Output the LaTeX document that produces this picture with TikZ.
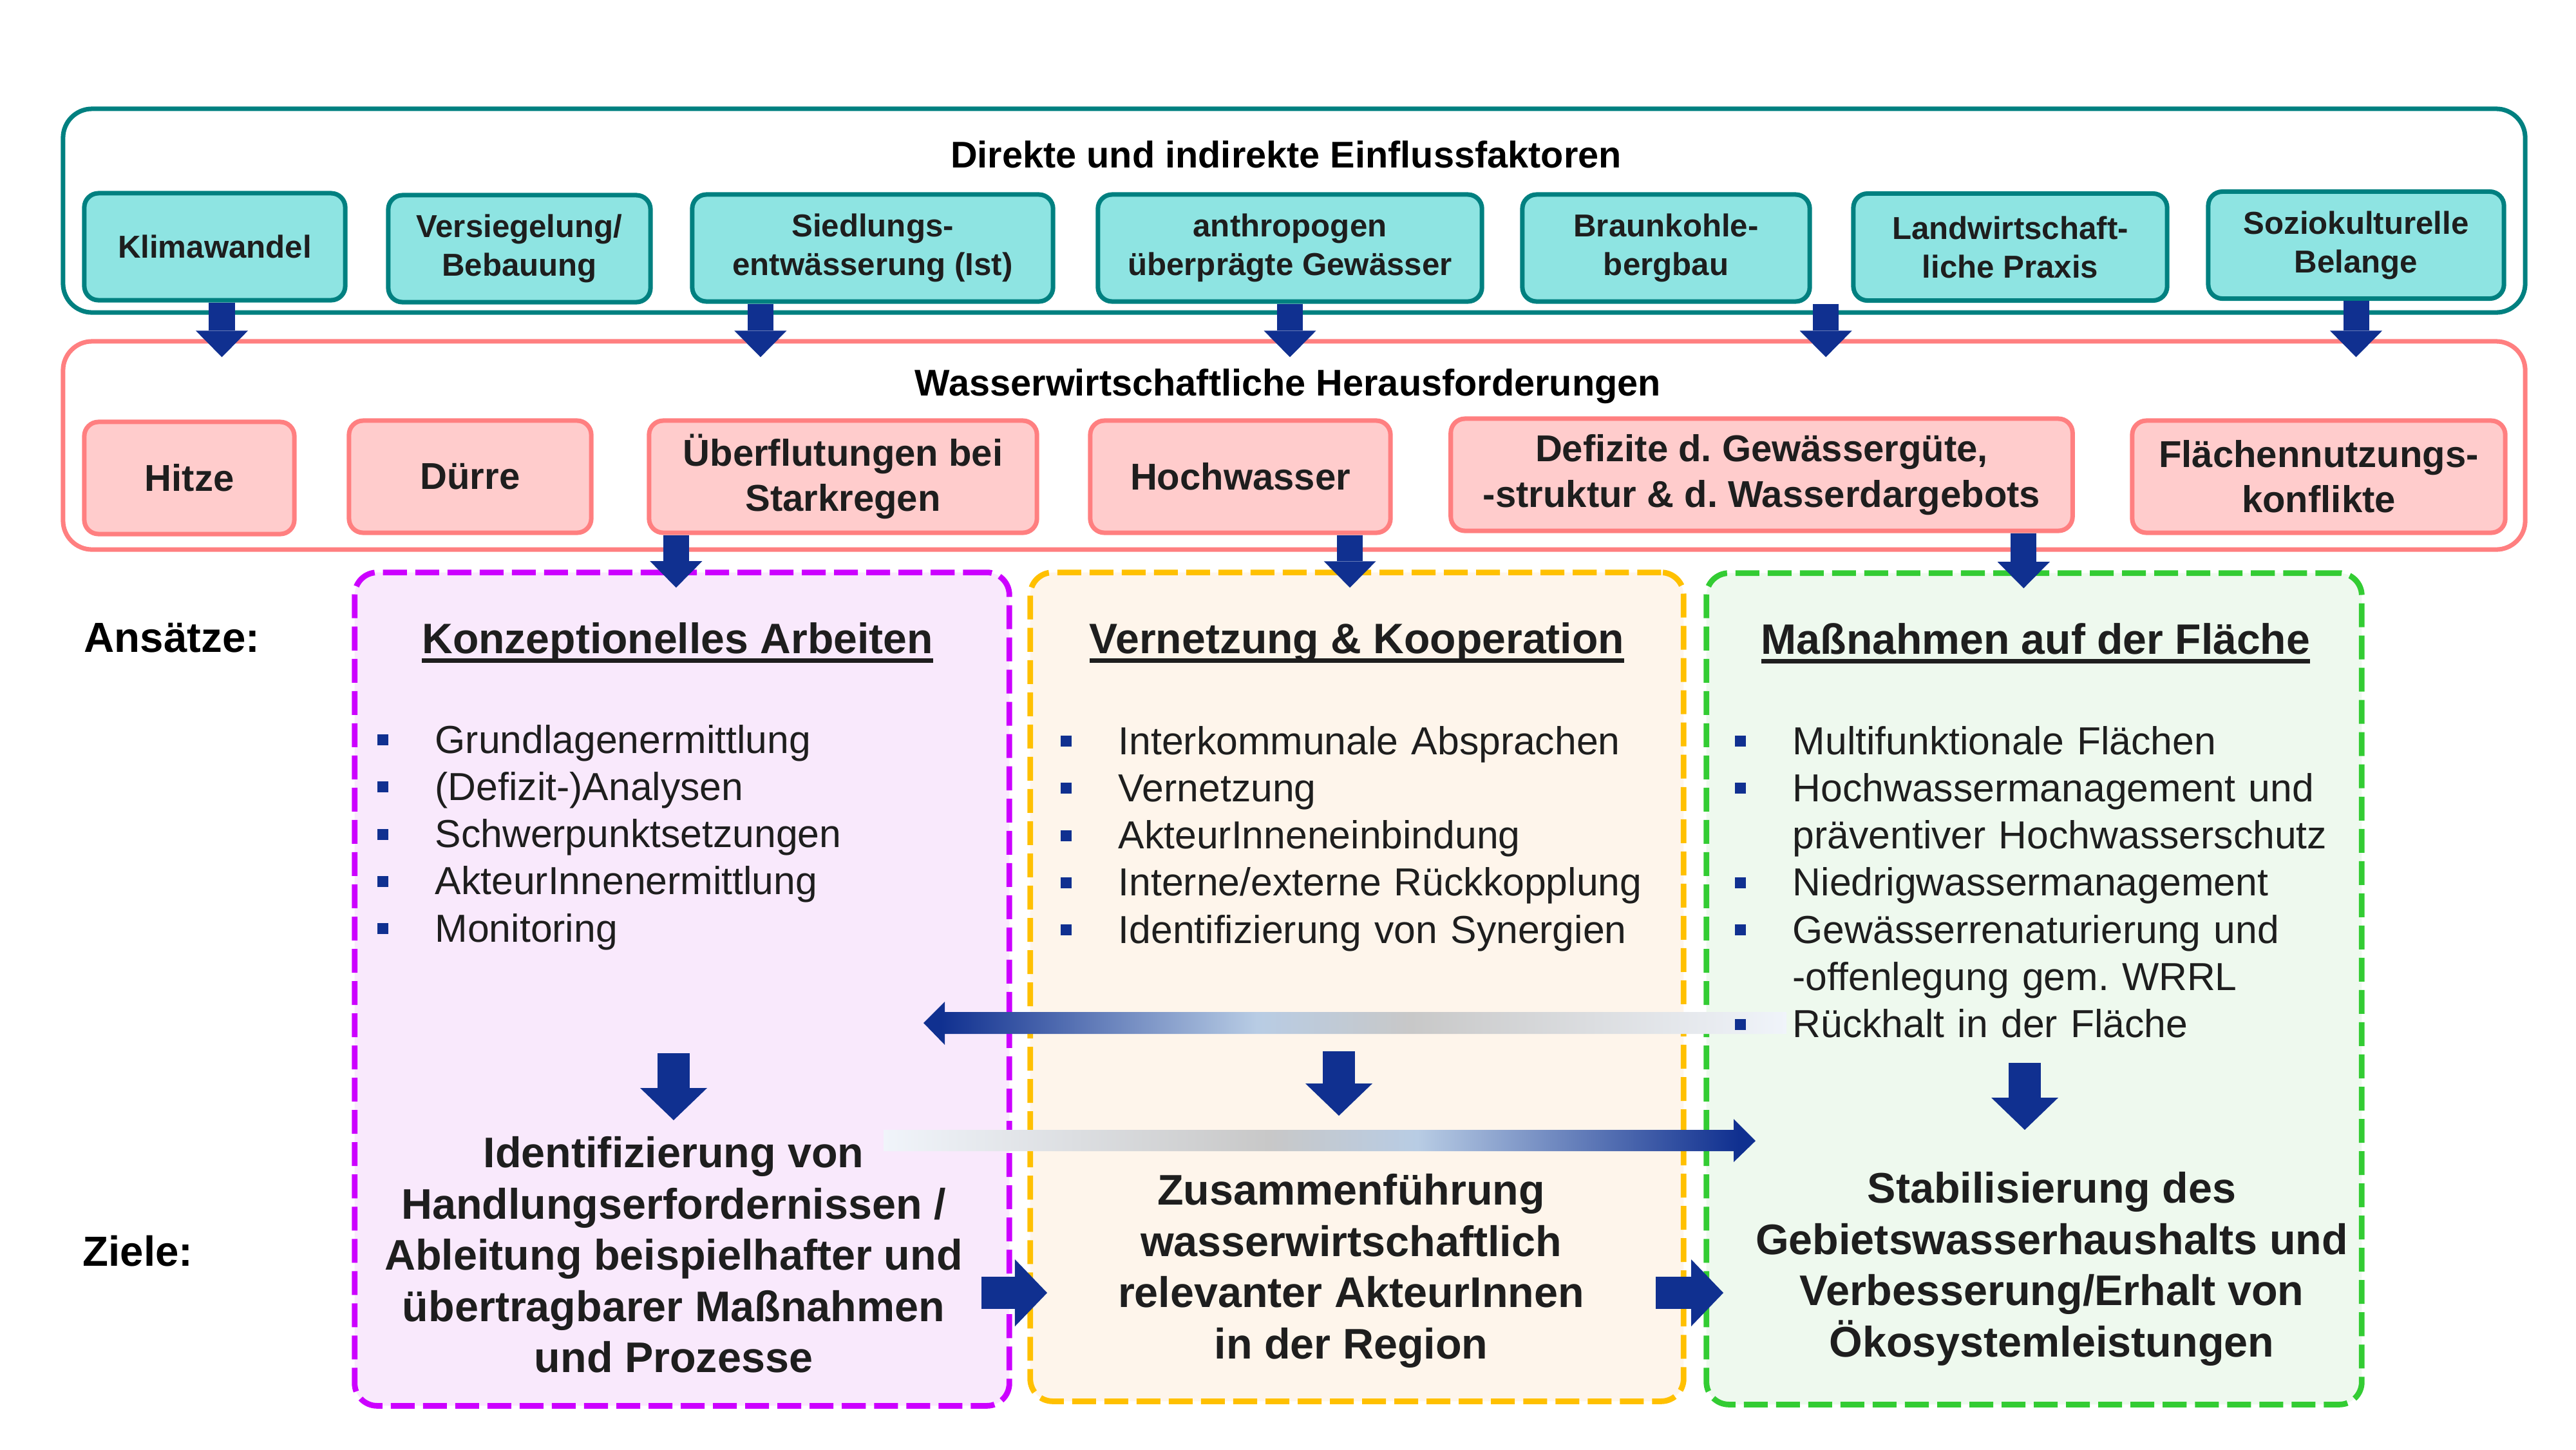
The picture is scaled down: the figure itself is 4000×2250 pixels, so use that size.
\documentclass[tikz,border=0pt]{standalone}
\usepackage{fontspec}
\setmainfont{Liberation Sans}
\usepackage{xcolor}
\usetikzlibrary{arrows.meta}
\frenchspacing

\definecolor{tealline}{RGB}{0,128,128}
\definecolor{tealfill}{RGB}{142,228,226}
\definecolor{pinkline}{RGB}{255,127,128}
\definecolor{pinkfill}{RGB}{255,204,204}
\definecolor{lilaline}{RGB}{204,0,255}
\definecolor{lilafill}{RGB}{249,233,252}
\definecolor{orangeline}{RGB}{255,192,0}
\definecolor{orangefill}{RGB}{254,245,235}
\definecolor{gruenline}{RGB}{51,204,51}
\definecolor{gruenfill}{RGB}{238,249,238}
\definecolor{navyarrow}{RGB}{16,48,144}
\definecolor{hellblau}{RGB}{184,204,228}
\definecolor{hellgrau}{RGB}{200,200,200}
\definecolor{fastweiss}{RGB}{240,244,250}
\definecolor{textdark}{RGB}{30,30,30}

\pgfdeclarehorizontalshading{verlaufLinks}{100bp}{color(0bp)=(navyarrow); color(26bp)=(navyarrow); color(44.3bp)=(hellblau); color(53.2bp)=(hellgrau); color(75bp)=(fastweiss); color(100bp)=(fastweiss)}
\pgfdeclarehorizontalshading{verlaufRechts}{100bp}{color(0bp)=(fastweiss); color(25bp)=(fastweiss); color(47.1bp)=(hellgrau); color(55.6bp)=(hellblau); color(74bp)=(navyarrow); color(100bp)=(navyarrow)}

\newcommand{\unterstr}[1]{\sbox0{#1}\rlap{\rule[-0.22em]{\wd0}{0.1em}}\usebox0}
\newcommand{\punkt}{\leavevmode\llap{\textcolor{navyarrow}{\rule[0.2em]{0.28em}{0.28em}}\hspace{1.2em}}}

\begin{document}
\begin{tikzpicture}[x=0.01cm, y=-0.01cm,
    rahmen/.style={line width=2pt, rounded corners=0.45cm, inner sep=0pt},
    faktor/.style={draw=tealline, fill=tealfill, line width=2pt, rounded corners=0.22cm, inner sep=0pt, minimum height=1.66cm, align=center, text=textdark, font=\bfseries\fontsize{14pt}{17pt}\selectfont},
    problem/.style={draw=pinkline, fill=pinkfill, line width=2pt, rounded corners=0.22cm, inner sep=0pt, minimum height=1.74cm, align=center, text=textdark, font=\bfseries\fontsize{16.5pt}{20pt}\selectfont},
    kopf/.style={anchor=base, font=\bfseries\fontsize{16.4pt}{20pt}\selectfont},
    ansatz/.style={line width=2.5pt, dash pattern=on 0.37cm off 0.13cm, rounded corners=0.35cm, inner sep=0pt},
    titel/.style={anchor=base, inner sep=0pt, text=textdark, font=\bfseries\fontsize{18.8pt}{22pt}\selectfont},
    liste/.style={anchor=base west, inner sep=0pt, text width=9cm, align=left, text=textdark, font=\fontsize{17.25pt}{20.85pt}\selectfont},
    ziel/.style={align=center, inner sep=0pt, text=textdark, font=\bfseries\fontsize{18.9pt}{22.6pt}\selectfont},
    seite/.style={anchor=base west, inner sep=0pt, font=\bfseries\fontsize{18.6pt}{22pt}\selectfont},
    pfeil/.style={draw=navyarrow, line width=0.4cm, shorten >=-0.28cm, -{Triangle[width=0.81cm, length=0.41cm, line width=0pt]}},
    dickpfeil/.style={draw=navyarrow, line width=0.5cm, -{Triangle[width=1.04cm, length=0.5cm, line width=0pt]}}]
    \useasboundingbox (0,0) rectangle (4000,2250);

    \node[rahmen, draw=tealline, minimum width=38.21cm, minimum height=3.16cm] (einfluss) at (2009.5,327) {};
    \node[kopf] (einflusskopf) at (1997,260) {Direkte und indirekte Einflussfaktoren};
    \node[faktor, minimum width=4.05cm] (klima) at (333.5,383) {Klimawandel};
    \node[faktor, minimum width=4.07cm] (versieg) at (806.5,386) {Versiegelung/\\Bebauung};
    \node[faktor, minimum width=5.6cm] (siedl) at (1355,385) {Siedlungs-\\entwässerung (Ist)};
    \node[faktor, minimum width=5.96cm] (anthro) at (2003,385) {anthropogen\\überprägte Gewässer};
    \node[faktor, minimum width=4.46cm] (braun) at (2587,385) {Braunkohle-\\bergbau};
    \node[faktor, minimum width=4.87cm] (landw) at (3121.5,383.5) {Landwirtschaft-\\liche Praxis};
    \node[faktor, minimum width=4.59cm] (sozio) at (3658.5,380.5) {Soziokulturelle\\Belange};

    \node[rahmen, draw=pinkline, minimum width=38.21cm, minimum height=3.23cm] (herausf) at (2009.5,691.5) {};
    \node[kopf] (herausfkopf) at (2000,614) {Wasserwirtschaftliche Herausforderungen};
    \node[problem, minimum width=3.26cm] (hitze) at (294,742) {Hitze};
    \node[problem, minimum width=3.76cm] (duerre) at (730,740) {Dürre};
    \node[problem, minimum width=6.02cm] (ueberfl) at (1309,740) {Überflutungen bei\\Starkregen};
    \node[problem, minimum width=4.66cm] (hochw) at (1926,740) {Hochwasser};
    \node[problem, minimum width=9.65cm] (defizit) at (2735.5,737) {Defizite d. Gewässergüte,\\-struktur \& d. Wasserdargebots};
    \node[problem, minimum width=5.79cm] (flaeche) at (3600.5,740) {Flächennutzungs-\\konflikte};

    \node[ansatz, draw=lilaline, fill=lilafill, minimum width=10.16cm, minimum height=12.93cm] (konzept) at (1059,1535.5) {};
    \node[ansatz, draw=orangeline, fill=orangefill, minimum width=10.14cm, minimum height=12.86cm] (vernetz) at (2107,1532) {};
    \node[ansatz, draw=gruenline, fill=gruenfill, minimum width=10.17cm, minimum height=12.9cm] (massn) at (3158.5,1535) {};

    \node[seite] (ansaetze) at (130,1012) {Ansätze:};
    \node[seite] (ziele) at (128,1965) {Ziele:};

    \draw[pfeil] ([xshift=0.11cm]klima.south) -- ([xshift=0.11cm]klima.south |- herausf.north);
    \draw[pfeil] ([xshift=-1.74cm]siedl.south) -- ([xshift=-1.74cm]siedl.south |- herausf.north);
    \draw[pfeil] (anthro.south) -- (anthro.south |- herausf.north);
    \draw[pfeil] ([xshift=2.48cm]braun.south) -- ([xshift=2.48cm]braun.south |- herausf.north);
    \draw[pfeil] (sozio.south) -- (sozio.south |- herausf.north);

    \draw[pfeil] ([xshift=-2.59cm]ueberfl.south) -- ([xshift=-2.59cm]ueberfl.south |- konzept.north);
    \draw[pfeil] ([xshift=1.7cm]hochw.south) -- ([xshift=1.7cm]hochw.south |- vernetz.north);
    \draw[pfeil] ([xshift=4.065cm]defizit.south) -- ([xshift=4.065cm]defizit.south |- massn.north);

    \coordinate (rueckspitze) at (1434,1588);
    \shade[shading=verlaufLinks] (rueckspitze) -- ++(33,-33) -- ++(0,16) -- ++(1307,0) -- ++(0,34) -- ++(-1307,0) -- ++(0,17) -- cycle;
    \coordinate (vorstart) at (1372,1754);
    \shade[shading=verlaufRechts] (vorstart) -- ++(1320,0) -- ++(0,-17) -- ++(34,34) -- ++(-34,33) -- ++(0,-17) -- ++(-1320,0) -- cycle;

    \node[titel] (konztitel) at (1052,1014) {\unterstr{Konzeptionelles Arbeiten}};
    \node[titel] (verntitel) at (2107,1014) {\unterstr{Vernetzung \& Kooperation}};
    \node[titel] (masstitel) at (3161,1015) {\unterstr{Maßnahmen auf der Fläche}};

    \node[liste] (konzliste) at (675,1169) {\punkt Grundlagenermittlung\\\punkt (Defizit-)Analysen\\\punkt Schwerpunktsetzungen\\\punkt AkteurInnenermittlung\\\punkt Monitoring};
    \node[liste] (vernliste) at (1736,1171) {\punkt Interkommunale Absprachen\\\punkt Vernetzung\\\punkt AkteurInneneinbindung\\\punkt Interne/externe Rückkopplung\\\punkt Identifizierung von Synergien};
    \node[liste] (massliste) at (2783,1171) {\punkt Multifunktionale Flächen\\\punkt Hochwassermanagement und\\präventiver Hochwasserschutz\\\punkt Niedrigwassermanagement\\\punkt Gewässerrenaturierung und\\-offenlegung gem. WRRL\\\punkt Rückhalt in der Fläche};

    \node[ziel] (konzziel) at (1046,1948) {Identifizierung von\\Handlungserfordernissen /\\Ableitung beispielhafter und\\übertragbarer Maßnahmen\\und Prozesse};
    \node[ziel] (vernziel) at (2098,1973) {Zusammenführung\\wasserwirtschaftlich\\relevanter AkteurInnen\\in der Region};
    \node[ziel] (massziel) at (3186,1970) {Stabilisierung des\\Gebietswasserhaushalts und\\Verbesserung/Erhalt von\\Ökosystemleistungen};

    \foreach \n/\x/\a/\b in {konz/1046/1635/1739, vern/2079/1632/1732, mass/3144/1650/1754}
    {
        \coordinate (\n oben) at (\x,\a);
        \coordinate (\n unten) at (\x,\b);
        \draw[dickpfeil] (\n oben) -- (\n unten);
    }

    \coordinate (kvstart) at (1524,2007);
    \coordinate (kvende) at (1626,2007);
    \coordinate (vmstart) at (2571,2007);
    \coordinate (vmende) at (2676,2007);
    \draw[dickpfeil] (kvstart) -- (kvende);
    \draw[dickpfeil] (vmstart) -- (vmende);
\end{tikzpicture}
\end{document}
